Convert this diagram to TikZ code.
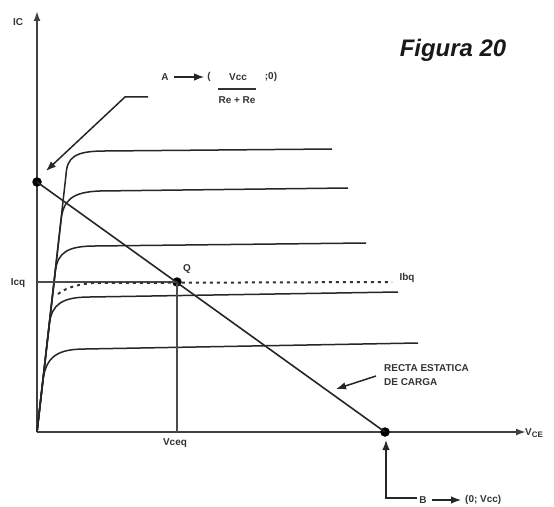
\documentclass[tikz,border=0pt]{standalone}
\usepackage{fontspec}
\setmainfont{Liberation Sans}
\usetikzlibrary{arrows.meta,calc}
\begin{document}
\begin{tikzpicture}[x=1bp,y=-1bp,
  lbl/.style={font=\fontsize{10}{12}\selectfont\bfseries, text=black!80, inner sep=0pt},
  crv/.style={line width=1.5bp, draw=black!85},
  axis/.style={line width=1.8bp, draw=black!75},
  dotpt/.style={circle, fill=black, inner sep=0pt, minimum size=9.5bp},
  arr/.style={-{Latex[length=10bp,width=7.5bp]}, line width=1.5bp, draw=black!85},
]
\useasboundingbox (0,0) rectangle (554,507);
\fill[white] (0,0) rectangle (554,507);

% axes
\coordinate (O) at (37,432);
\coordinate (yTop) at (37,11);
\coordinate (xEnd) at (526,432);
\draw[axis, -{Latex[length=10bp,width=7bp]}] (O) -- (yTop);
\draw[axis, -{Latex[length=10bp,width=7bp]}] (O) -- (xEnd);
\node[lbl] (ic) at (18,22) {IC};
\node[lbl, anchor=west] (vce) at (525,433) {V\raisebox{-2.5bp}{\fontsize{8}{9}\selectfont CE}};

% title
\node[font=\fontsize{24}{28}\selectfont\bfseries\itshape, text=black!90, inner sep=0pt] (fig) at (453,50) {Figura 20};

% characteristic curves
\draw[crv] (O) -- (66,175) .. controls (67,157) and (75,151) .. (105,151) -- (332,149);
\draw[crv] (O) -- (61,221) .. controls (63,200) and (72,192) .. (100,191) -- (348,188);
\draw[crv] (O) -- (55.5,270) .. controls (58,253) and (67,246) .. (95,246) -- (366,243);
\draw[crv] (O) -- (49.5,323) .. controls (52,305) and (61,297) .. (90,297) -- (398,292);
\draw[crv] (O) -- (43,380) .. controls (46,357) and (57,349) .. (85,349) -- (418,343);

% load line
\node[dotpt] (A) at (37,182) {};
\node[dotpt] (B) at (385,432) {};
\node[dotpt] (Q) at (177,282) {};
\draw[line width=1.6bp, draw=black!85] (A.center) -- (B.center);

% Q lines
\coordinate (icqL) at (37,282);
\coordinate (vceqB) at (177,432);
\draw[line width=1.6bp, draw=black!70] (icqL) -- (Q.center);
\draw[line width=1.6bp, draw=black!70] (Q.center) -- (vceqB);
\draw[line width=2bp, draw=black!80, dash pattern=on 3bp off 4bp]
  (58,294) .. controls (66,288) and (75,285) .. (92,283) -- (392,282);
\node[lbl] (qlbl) at (187,269) {Q};
\node[lbl] (icq) at (18,283) {Icq};
\node[lbl] (vceq) at (175,443) {Vceq};
\node[lbl] (ibq) at (407,278) {Ibq};

% A annotation
\coordinate (aS) at (148,97);
\coordinate (aK) at (125,97);
\coordinate (aTip) at (46,171);
\draw[arr] (aS) -- (aK) -- (aTip);
\node[lbl] (alab) at (165,77) {A};
\node[lbl] (apar) at (209,77) {(};
\draw[arr, line width=1.3bp] ($(alab.east)+(5,0)$) -- ($(apar.west)+(-3,0)$);
\node[lbl] (vcc) at (238,77) {Vcc};
\coordinate (barL) at (218,89);
\coordinate (barR) at (256,89);
\draw[line width=1.8bp, draw=black!80] (barL) -- (barR);
\node[lbl] (rere) at (237,100) {Re + Re};
\node[lbl] (semi) at (271,77) {;0)};

% B annotation
\coordinate (bS) at (417,498);
\coordinate (bK) at (386,498);
\coordinate (bTip) at (386,440);
\draw[arr] (bS) -- (bK) -- (bTip);
\node[lbl] (blab) at (423,500) {B};
\node[lbl, anchor=west] (bval) at (465,500) {(0; Vcc)};
\draw[arr, line width=1.3bp] ($(blab.east)+(5,0)$) -- ($(bval.west)+(-4,0)$);

% recta label
\node[lbl, anchor=north west, align=left, font=\fontsize{10}{14}\selectfont\bfseries] (recta) at (384,364) {RECTA ESTATICA\\DE CARGA};
\coordinate (rS) at (376,376);
\coordinate (rTip) at (336,389);
\draw[arr] (rS) -- (rTip);
\end{tikzpicture}
\end{document}
